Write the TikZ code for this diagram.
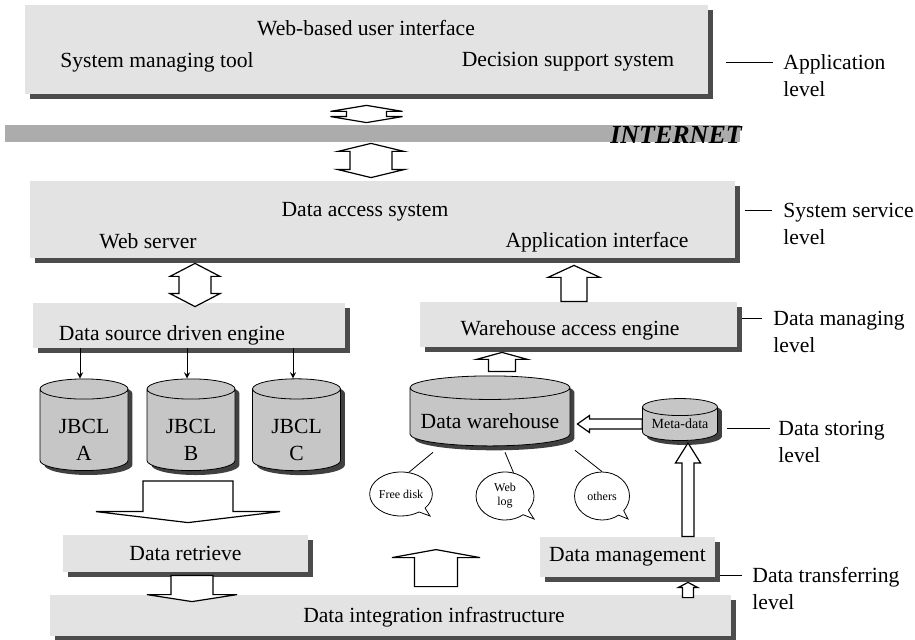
\documentclass[tikz,border=0pt]{standalone}
\usepackage{fontspec}
\setmainfont{Liberation Serif}
\usetikzlibrary{calc,shapes.geometric,shapes.callouts,shadows}

% hollow arrow: tail, tip, shaft half width, head half width, head length
\newcommand{\fatarrow}[5]{%
  \coordinate (fa-b) at ($(#2)!#5!(#1)$);
  \draw[fatarr] ($(#1)!#3!90:(#2)$) -- ($(fa-b)!#3!-90:(#1)$) -- ($(fa-b)!#4!-90:(#1)$) -- (#2)
    -- ($(fa-b)!#4!90:(#1)$) -- ($(fa-b)!#3!90:(#1)$) -- ($(#1)!#3!-90:(#2)$) -- cycle;}
% hollow double arrow, same arguments
\newcommand{\fatdarrow}[5]{%
  \coordinate (da-a) at ($(#1)!#5!(#2)$);
  \coordinate (da-b) at ($(#2)!#5!(#1)$);
  \draw[fatarr] (#1) -- ($(da-a)!#4!90:(#2)$) -- ($(da-a)!#3!90:(#2)$) -- ($(da-b)!#3!-90:(#1)$)
    -- ($(da-b)!#4!-90:(#1)$) -- (#2) -- ($(da-b)!#4!90:(#1)$) -- ($(da-b)!#3!90:(#1)$)
    -- ($(da-a)!#3!-90:(#2)$) -- ($(da-a)!#4!-90:(#2)$) -- cycle;}

\begin{document}
\begin{tikzpicture}[x=0.5pt, y=-0.5pt,
  font=\fontsize{10.8}{13.5}\selectfont,
  layerbox/.style={rectangle, fill=gray!22, inner sep=0pt,
    drop shadow={shadow xshift=2.3pt, shadow yshift=-2.3pt, fill=black!70, opacity=1}},
  cyl/.style={cylinder, shape border rotate=90, aspect=0.4, draw, fill=gray!45, align=center, inner sep=0pt,
    drop shadow={shadow xshift=2.2pt, shadow yshift=-2.2pt, fill=black!75, opacity=1}},
  bubble/.style={ellipse callout, draw, fill=white, inner sep=0pt, align=center,
    font=\fontsize{6}{7}\selectfont},
  fatarr/.style={draw, fill=white, line width=0.6pt},
  lvl/.style={anchor=west, align=left, inner sep=0pt},
  >=stealth]
  \fill[white] (0,0) rectangle (915,640);
  \useasboundingbox (0,0) rectangle (915,640);

  % application level
  \node[layerbox, minimum width=341.5pt, minimum height=44.5pt] (ui) at (366.5,49.5) {};
  \node (uitxt) at (366,28) {Web-based user interface};
  \node (smt) at (157,62) {System managing tool};
  \node (dss) at (568,62) {Decision support system};

  % internet
  \node[rectangle, fill=gray!65, inner sep=0pt, minimum width=367.5pt, minimum height=8.5pt] (net) at (372.5,133.5) {};
  \node[font=\fontsize{13}{13}\selectfont\bfseries\itshape] (inet) at (676,135) {INTERNET};

  % system service level
  \node[layerbox, minimum width=352.5pt, minimum height=38.5pt] (das) at (382.5,219.5) {};
  \node (dastxt) at (365,212) {Data access system};
  \node (ws) at (148,241) {Web server};
  \node (ai) at (597,242) {Application interface};

  % data managing level
  \node[layerbox, minimum width=156pt, minimum height=22.5pt] (dsde) at (189,325.5) {};
  \node (dsdetxt) at (172,335) {Data source driven engine};
  \node[layerbox, minimum width=158.5pt, minimum height=22.5pt] (wae) at (578.5,324.5) {};
  \node (waetxt) at (570,330) {Warehouse access engine};

  % data storing level
  \node[cyl, minimum width=44pt, minimum height=37.5pt] (ja) at (84,430) {\rule{0pt}{17pt}JBCL\\A};
  \node[cyl, minimum width=44pt, minimum height=37.5pt] (jb) at (191,430) {\rule{0pt}{17pt}JBCL\\B};
  \node[cyl, minimum width=44pt, minimum height=37.5pt] (jc) at (296.5,430) {\rule{0pt}{17pt}JBCL\\C};
  \node[cyl, aspect=0.17, minimum width=80pt, minimum height=35pt] (dw) at (490,417) {\rule{0pt}{12pt}Data warehouse};
  \node[cyl, aspect=0.3, minimum width=37.5pt, minimum height=21pt, font=\fontsize{7}{8}\selectfont] (md) at (680,424) {Meta-data};

  \node[bubble, minimum width=29pt, minimum height=22pt, callout absolute pointer={(430,516)}] (free) at (401,494) {Free disk};
  \node[bubble, minimum width=29pt, minimum height=24pt, callout absolute pointer={(534,519)}] (wlog) at (505,496) {Web\\log};
  \node[bubble, minimum width=27.5pt, minimum height=24pt, callout absolute pointer={(628,519)}] (oth) at (602,496) {others};
  \draw (free.70) -- ($(dw.south)+(-57,6)$);
  \draw (wlog.70) -- ($(dw.south)+(15,6)$);
  \draw (oth.north) -- ($(dw.south)+(85,4)$);

  % data transferring level
  \node[layerbox, minimum width=122.5pt, minimum height=18.5pt] (dr) at (185.5,553.5) {Data retrieve};
  \node[layerbox, minimum width=87.5pt, minimum height=20pt] (dm) at (627.5,557) {Data management};
  \node[layerbox, minimum width=340.5pt, minimum height=20.5pt] (dii) at (390.5,615.5) {};
  \node (diitxt) at (434,617) {Data integration infrastructure};

  % thin arrows
  \draw[->] (dsde.south -| 80,0) -- (ja.north -| 80,0);
  \draw[->] (dsde.south -| 187,0) -- (jb.north -| 187,0);
  \draw[->] (dsde.south -| 293,0) -- (jc.north -| 293,0);

  % hollow arrows
  \coordinate (a1s) at ($(ui.south)+(0,11)$);
  \coordinate (a1e) at ($(net.north -| a1s)+(0,-2)$);
  \fatdarrow{a1s}{a1e}{10pt}{18pt}{3pt}
  \coordinate (a2s) at ($(net.south -| 371,0)+(0,1)$);
  \coordinate (a2e) at ($(das.north -| a2s)+(0,-3)$);
  \fatdarrow{a2s}{a2e}{10.5pt}{16.5pt}{4pt}
  \coordinate (a3s) at ($(das.south -| 195,0)+(0,5)$);
  \coordinate (a3e) at ($(dsde.north -| a3s)+(0,4)$);
  \fatdarrow{a3s}{a3e}{8pt}{12.5pt}{6.5pt}
  \coordinate (a4s) at (wae.north -| 574,0);
  \coordinate (a4e) at ($(das.south -| a4s)+(0,7)$);
  \fatarrow{a4s}{a4e}{6.5pt}{13pt}{6pt}
  \coordinate (a5s) at ($(dw.north -| 502,0)+(0,-4)$);
  \coordinate (a5e) at ($(wae.south -| a5s)+(0,5)$);
  \fatarrow{a5s}{a5e}{6.75pt}{12.75pt}{3.5pt}
  \coordinate (a6s) at (md.west);
  \coordinate (a6e) at ($(dw.east |- md.west)+(7,0)$);
  \fatarrow{a6s}{a6e}{2.5pt}{4.25pt}{6pt}
  \coordinate (a7s) at (dm.north -| 688,0);
  \coordinate (a7e) at ($(md.south -| a7s)+(0,2)$);
  \fatarrow{a7s}{a7e}{3pt}{6.25pt}{10pt}
  \coordinate (a8s) at ($(dii.north -| 688,0)+(0,3)$);
  \coordinate (a8e) at ($(dm.south -| a8s)+(0,5)$);
  \fatarrow{a8s}{a8e}{2.75pt}{4.75pt}{2.5pt}
  \coordinate (a9s) at ($(jb.south -| 188,0)+(0,10)$);
  \coordinate (a9e) at ($(dr.north -| a9s)+(0,-12)$);
  \fatarrow{a9s}{a9e}{22.5pt}{46pt}{5.5pt}
  \coordinate (a10s) at ($(dr.south -| 192,0)+(0,3)$);
  \coordinate (a10e) at ($(dii.north -| a10s)+(0,7)$);
  \fatarrow{a10s}{a10e}{10.5pt}{22.5pt}{3.5pt}
  \coordinate (a11s) at ($(dii.north -| 436,0)+(0,-8)$);
  \coordinate (a11e) at ($(a11s)+(0,-37)$);
  \fatarrow{a11s}{a11e}{10.75pt}{22pt}{4pt}

  % level labels
  \node[lvl] (lapp) at (783,75.5) {Application\\level};
  \draw ([yshift=6.75pt]lapp.west) ++(-10,0) -- ++(-47,0);
  \node[lvl] (lsys) at (783,223.5) {System service\\level};
  \draw ([yshift=6.75pt]lsys.west) ++(-11,0) -- ++(-27,0);
  \node[lvl] (lman) at (773,331.5) {Data managing\\level};
  \draw ([yshift=6.75pt]lman.west) ++(-11,0) -- ++(-20,0);
  \node[lvl] (lsto) at (778,441.5) {Data storing\\level};
  \draw ([yshift=6.75pt]lsto.west) ++(-8,0) -- ++(-43,0);
  \node[lvl] (ltra) at (752,588.5) {Data transferring\\level};
  \draw ([yshift=6.75pt]ltra.west) ++(-10,0) -- ++(-22,0);
\end{tikzpicture}
\end{document}
